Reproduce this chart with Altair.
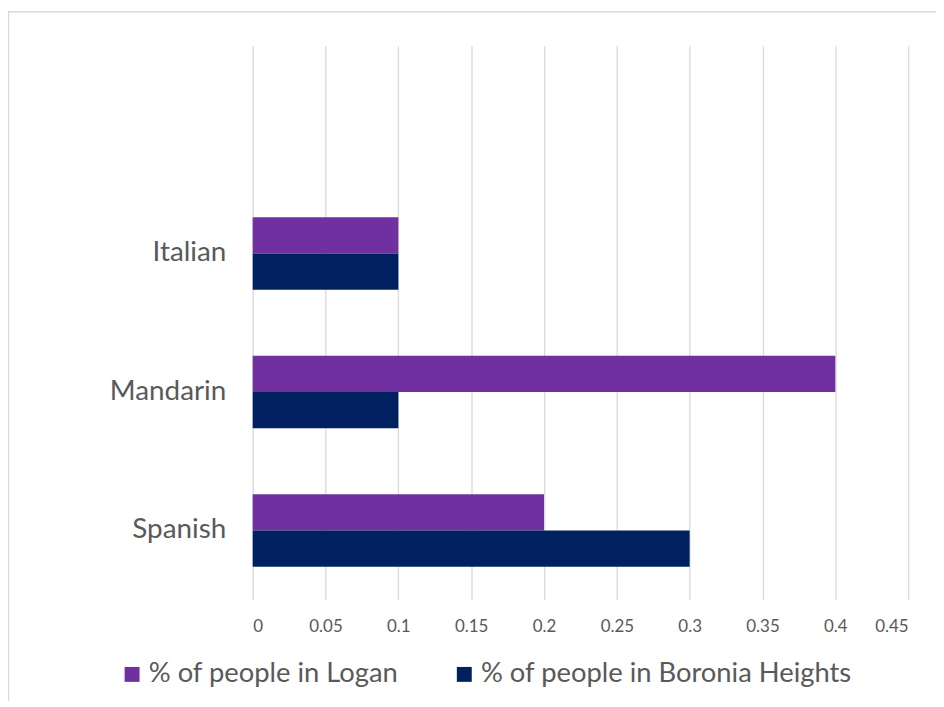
import altair as alt
import pandas as pd

# ---- data ----
languages = ["Italian", "Mandarin", "Spanish"]
logan = [0.1, 0.4, 0.2]
boronia = [0.1, 0.1, 0.3]
series = ["% of people in Logan", "% of people in Boronia Heights"]
colors = ["#7030A0", "#002060"]
x_ticks = [0, 0.05, 0.1, 0.15, 0.2, 0.25, 0.3, 0.35, 0.4, 0.45]
# Excel leaves one empty category slot at the top
axis_order = [" ", "Italian", "Mandarin", "Spanish"]

rows = []
for i, lang in enumerate(languages):
    rows.append({"language": lang, "series": series[0], "value": logan[i]})
    rows.append({"language": lang, "series": series[1], "value": boronia[i]})
df = pd.DataFrame(rows)

FONT = "Lato"
TEXT = "#595959"

bars = alt.Chart(df).mark_bar(strokeWidth=0).encode(
    x=alt.X(
        "value:Q",
        scale=alt.Scale(domain=[0, 0.45], nice=False, zero=True),
        axis=alt.Axis(
            values=x_ticks, format="~g", title=None, domain=False, ticks=False,
            grid=True, gridColor="#D9D9D9", gridWidth=1.3,
            labelFont=FONT, labelFontSize=17, labelColor=TEXT, labelPadding=19,
        ),
    ),
    y=alt.Y(
        "language:N",
        sort=axis_order,
        scale=alt.Scale(domain=axis_order, paddingInner=0.476, paddingOuter=0.238),
        axis=alt.Axis(
            title=None, domain=False, ticks=False, grid=False,
            labelFont=FONT, labelFontSize=28, labelColor=TEXT, labelPadding=27,
        ),
    ),
    yOffset=alt.YOffset("series:N", sort=series, scale=alt.Scale(domain=series)),
    color=alt.Color(
        "series:N",
        sort=series,
        scale=alt.Scale(domain=series, range=colors),
        legend=alt.Legend(
            title=None, orient="none", direction="horizontal",
            legendX=-135, legendY=618, padding=0,
            symbolType="square", symbolSize=225, symbolStrokeWidth=0,
            labelFont=FONT, labelFontSize=27.5, labelColor=TEXT, labelOffset=3,
            columnPadding=52, labelLimit=500,
        ),
    ),
)

# light grey chart-area frame (top and left edges)
frame_top = alt.Chart(pd.DataFrame({"a": [0]})).mark_rule(color="#D9D9D9", strokeWidth=1.5).encode(
    x=alt.value(-246), x2=alt.value(700), y=alt.value(-34)
)
frame_left = alt.Chart(pd.DataFrame({"a": [0]})).mark_rule(color="#D9D9D9", strokeWidth=1.5).encode(
    x=alt.value(-245.5), y=alt.value(-34), y2=alt.value(670)
)

chart = alt.layer(bars, frame_top, frame_left).properties(
    width=659,
    height=557,
    autosize=alt.AutoSizeParams(type="none"),
    padding={"left": 246, "top": 36, "right": 28, "bottom": 100},
).configure_view(stroke=None)

chart.save("out.html", embed_options={"renderer": "svg", "actions": False})
